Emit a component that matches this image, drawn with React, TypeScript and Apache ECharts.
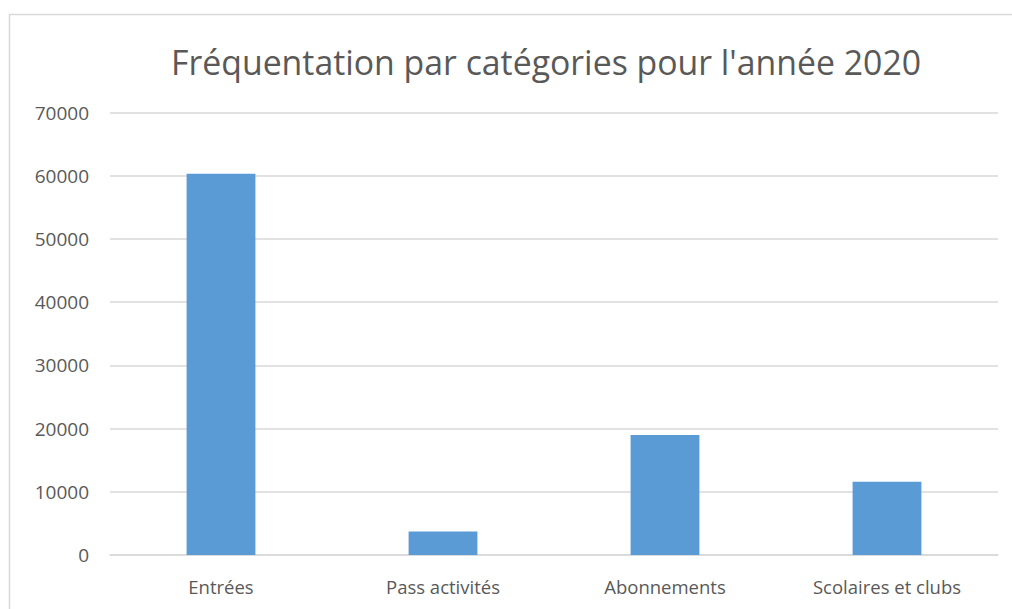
import React, { useEffect, useRef } from "react";
import * as echarts from "echarts";

const categories = ["Entrées", "Pass activités", "Abonnements", "Scolaires et clubs"];
const values = [60300, 3700, 19000, 11600];
const yMin = 0;
const yMax = 70000;
const yInterval = 10000;
const titleText = "Fréquentation par catégories pour l'année 2020";

export default function App() {
  const ref = useRef<HTMLDivElement>(null);
  useEffect(() => {
    if (!ref.current) return;
    const chart = echarts.init(ref.current, null, { renderer: "svg" });
    chart.setOption({
      animation: false,
      backgroundColor: "#ffffff",
      title: {
        text: titleText,
        left: 166,
        top: 40,
        textStyle: {
          fontFamily: "Open Sans, sans-serif",
          fontWeight: "normal",
          fontSize: 33.8,
          color: "#595959",
        },
      },
      graphic: [
        {
          type: "rect",
          shape: { x: 9.5, y: 14.5, width: 1100, height: 700 },
          style: { fill: "none", stroke: "#d9d9d9", lineWidth: 1.5 },
          silent: true,
        },
      ],
      grid: { left: 110, right: 14, top: 112.5, bottom: 54 },
      xAxis: {
        type: "category",
        data: categories,
        axisLine: { show: true, lineStyle: { color: "#d9d9d9", width: 1.5 } },
        axisTick: { show: false },
        axisLabel: {
          color: "#595959",
          fontSize: 18.5,
          margin: 22,
          fontFamily: "Open Sans, sans-serif",
        },
      },
      yAxis: {
        type: "value",
        min: yMin,
        max: yMax,
        interval: yInterval,
        axisLine: { show: false },
        axisTick: { show: false },
        splitLine: { lineStyle: { color: "#d9d9d9", width: 1.5 } },
        axisLabel: {
          color: "#595959",
          fontSize: 19,
          margin: 21,
          fontFamily: "Open Sans, sans-serif",
          formatter: (v: number) => String(v),
        },
      },
      series: [
        {
          type: "bar",
          data: values,
          barWidth: "31%",
          itemStyle: { color: "#5b9bd5" },
        },
      ],
    });
    return () => chart.dispose();
  }, []);
  return (
    <div
      ref={ref}
      style={{ position: "fixed", left: 0, top: 0, width: 1012, height: 609 }}
    />
  );
}
